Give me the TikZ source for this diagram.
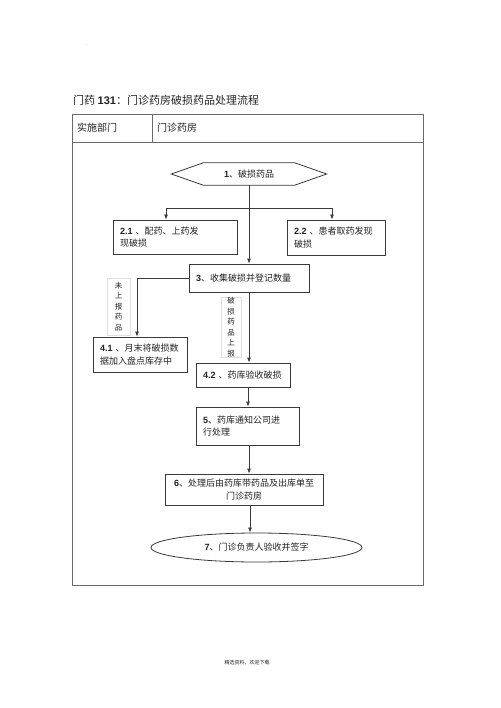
\documentclass[tikz,border=0pt]{standalone}
\usepackage{fontspec}
\setmainfont{Noto Sans CJK SC}
\newfontfamily\lat{Liberation Sans}
\usetikzlibrary{arrows.meta,shapes.geometric}
\newcommand\dg[1]{{\lat\bfseries #1}}
\definecolor{linec}{HTML}{3A3A3A}
\definecolor{framec}{HTML}{6A6A6A}
\definecolor{txt}{HTML}{222222}
\tikzset{
  box/.style={draw=linec, line width=0.8pt, inner xsep=7pt, inner ysep=0pt,
    font=\fontsize{9}{12.5}\selectfont, align=left, text=txt},
  arr/.style={draw=linec, line width=0.8pt, -{Latex[length=5pt,width=4pt]}},
  ln/.style={draw=linec, line width=0.8pt},
  vlab/.style={font=\fontsize{7.5}{10.5}\selectfont, align=center, text=txt, inner sep=0pt},
}
\begin{document}
\begin{tikzpicture}[x=1pt,y=-1pt]
\useasboundingbox (0,0) rectangle (500,708);
\fill[white] (0,0) rectangle (500,708);
% dot and title
\node[font=\fontsize{5}{6}\selectfont, text=gray] (dot) at (87,45) {.};
\node[anchor=west, font=\fontsize{11}{13}\selectfont, text=txt, inner sep=0pt] (title) at (73,100) {门药 \dg{131}：门诊药房破损药品处理流程};
% table
\draw[framec, line width=0.9pt] (72,114) rectangle (423,585);
\draw[framec, line width=0.9pt] (72,142) -- (423,142);
\draw[framec, line width=0.9pt] (152,114) -- (152,142);
\node[anchor=west, font=\fontsize{10}{12}\selectfont, text=txt, inner sep=0pt] (dept) at (77,128) {实施部门};
\node[anchor=west, font=\fontsize{10}{12}\selectfont, text=txt, inner sep=0pt] (deptv) at (157,128) {门诊药房};
% hexagon 1
\node[minimum width=155pt, minimum height=22pt, inner sep=0pt, font=\fontsize{9}{11}\selectfont, text=txt] (hex) at (249,174) {\dg{1}、破损药品};
\draw[ln] (hex.west) -- ([xshift=32pt]hex.north west) -- ([xshift=-32pt]hex.north east) -- (hex.east) -- ([xshift=-32pt]hex.south east) -- ([xshift=32pt]hex.south west) -- cycle;
% boxes
\node[box, text width=110pt, minimum height=34pt] (b21) at (175,237) {\dg{2.1} 、配药、上药发\\现破损};
\node[box, text width=84pt, minimum height=35pt] (b22) at (336,237.5) {\dg{2.2} 、患者取药发现\\破损};
\node[box, text width=106pt, minimum height=28pt] (b3) at (249,278) {\dg{3}、收集破损并登记数量};
\node[box, text width=80pt, minimum height=35pt] (b41) at (140,354.5) {\dg{4.1} 、月末将破损数\\据加入盘点库存中};
\node[box, text width=80pt, minimum height=24pt] (b42) at (243,375) {\dg{4.2} 、药库验收破损};
\node[box, text width=89pt, minimum height=38pt] (b5) at (247.5,426) {\dg{5}、药库通知公司进\\行处理};
\node[box, text width=144pt, minimum height=31pt, align=center] (b6) at (244,489.5) {\dg{6}、处理后由药库带药品及出库单至\\门诊药房};
\node[ellipse, draw=linec, line width=0.8pt, minimum width=211pt, minimum height=29pt, inner sep=0pt, font=\fontsize{9}{11}\selectfont, text=txt] (e7) at (256.5,547.5) {\dg{7}、门诊负责人验收并签字};
% vertical labels
\node[vlab, draw=gray!25, line width=0.6pt, minimum width=23pt, minimum height=57pt] (l1) at (118.5,306.5) {未\\上\\报\\药\\品};
\node[vlab, draw=gray!25, line width=0.6pt, minimum width=20pt, minimum height=60pt] (l2) at (231,327) {破\\损\\药\\品\\上\\报};
% connectors
\coordinate (j) at ([yshift=-23pt]hex.south);
\draw[arr] (j) -| ([xshift=-9pt]b21.north);
\draw[arr] (j) -| ([xshift=-4pt]b22.north);
\draw[arr] (b3.west) -| ([xshift=-3pt]b41.north);
\draw[arr] (b3.south) -- (b3.south |- b42.north);
\draw[arr] ([xshift=5pt]b42.south) -- ([xshift=5pt]b42.south |- b5.north);
\draw[arr] ([xshift=5pt]b6.north |- b5.south) -- ([xshift=5pt]b6.north);
\draw[arr] ([xshift=6pt]b6.south) -- ([xshift=6pt]b6.south |- e7.north);
\draw[arr] (hex.south) -- (b3.north);
% footer
\node[font=\fontsize{5}{6}\selectfont, text=txt] (foot) at (247,663) {精选资料，欢迎下载};
\end{tikzpicture}
\end{document}
